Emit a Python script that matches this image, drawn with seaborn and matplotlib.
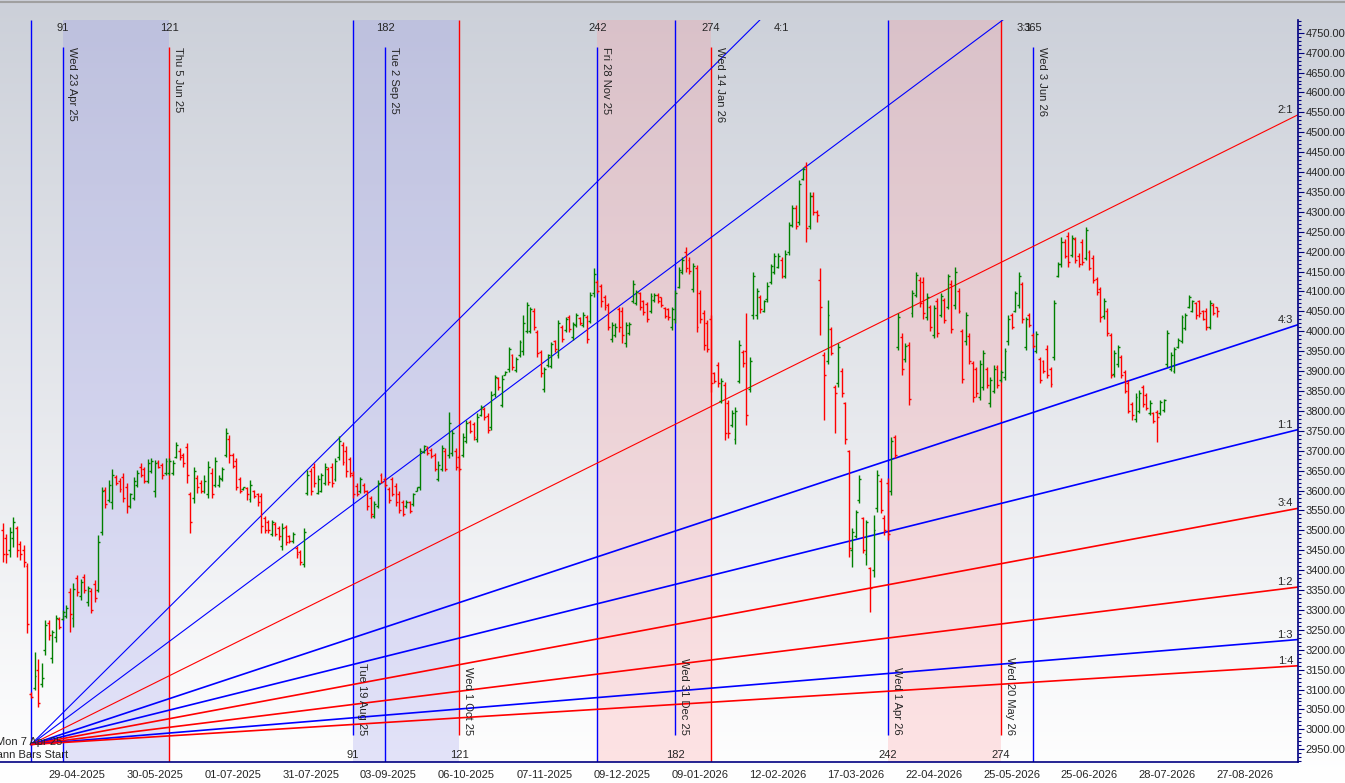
import numpy as np
import pandas as pd
import matplotlib
matplotlib.use("Agg")
import matplotlib.pyplot as plt
from matplotlib.ticker import MultipleLocator, FixedLocator, StrMethodFormatter
import seaborn as sns

sns.set_style("white")
plt.rcParams['font.family'] = ['Liberation Sans', 'DejaVu Sans']

# ---- price bars (one per trading day, bar 0 = Mon 7 Apr 25) ----
first_bar = -8
opens = [
    3500, 3480, 3450, 3480, 3505, 3465, 3450, 3410,
    3090, 3105, 3150, 3115, 3200, 3268, 3180, 3232, 3278,
    3278, 3285, 3345, 3280, 3380, 3335, 3382, 3320, 3348, 3366, 3350, 3495, 3602, 3576, 3570,
    3635, 3625, 3635, 3610, 3562, 3580, 3615, 3660, 3655, 3625, 3650, 3600, 3672, 3665, 3645,
    3645, 3645, 3685, 3700, 3688, 3710, 3590, 3580, 3632, 3620, 3600, 3590, 3645, 3615, 3615,
    3628, 3690, 3730, 3688, 3675, 3628, 3603, 3606, 3578, 3598, 3590, 3585, 3530, 3520, 3490,
    3515, 3505, 3460, 3508, 3485, 3472, 3455, 3445, 3415, 3595, 3650, 3660, 3595, 3600, 3620,
    3655, 3660, 3628, 3685, 3715, 3700, 3680,
    3640, 3612, 3598, 3615, 3598, 3580, 3535, 3562, 3640, 3630, 3605, 3628, 3612, 3592, 3570,
    3560, 3570, 3565, 3600, 3608, 3698, 3708, 3702, 3690, 3630, 3655, 3700, 3690, 3695, 3700,
    3685, 3690, 3725, 3772, 3768, 3730, 3790, 3805, 3788, 3760, 3842, 3882, 3815, 3891, 3905,
    3940, 3902, 3940, 3950, 4000, 4000, 4050, 3998, 3948, 3855, 3915, 3912, 3975, 3940, 4010,
    4003, 4036, 3985, 4015, 4033, 4016, 4035, 4025, 4095,
    4125, 4115, 4085, 4065, 3980, 3990, 4055, 4050, 3970, 3995, 4075, 4070, 4095, 4075, 4068,
    4050, 4078, 4092, 4085, 4058, 4055, 4010, 4030, 4112, 4150, 4200, 4180, 4105, 4160, 4095,
    4045, 4020,
    4030, 3895, 3915, 3825, 3865, 3820, 3765, 3730, 3875, 3948, 3950, 3855, 4040, 4040, 4085,
    4052, 4080, 4125, 4150, 4162, 4180, 4140, 4200, 4268, 4310, 4275, 4382, 4415, 4265, 4340,
    4300, 4130, 3940, 3925, 4005, 3860, 3870, 3900, 3820, 3700, 3450, 3485, 3575, 3530, 3440,
    3405, 3400, 3555, 3625, 3530,
    3620, 3600, 3735, 3960, 3985, 3930, 3965, 4045, 4092, 4130, 4125, 4035, 4060, 3990, 4075,
    4042, 4078, 4062, 4120, 4065, 4100, 4000, 3975, 3988, 3920, 3905, 3835, 3860, 3905, 3820,
    3850, 3910,
    3878, 3885, 3975, 4040, 4052, 4065, 4118, 3960, 4040,
    3990, 3950, 3930, 3925, 3955, 3905, 3935, 4140, 4170, 4225, 4240, 4192, 4232, 4190, 4225,
    4185, 4198, 4185, 4132, 4105, 4038, 4050, 3990, 3892, 3918, 3935, 3898, 3870, 3818, 3780,
    3800, 3860, 3840, 3795, 3795, 3798, 3795, 3802, 3918, 3905, 3900, 3960, 3975, 4008, 4062,
    4052, 4070, 4075, 4050, 4052, 4012, 4066, 4060,
]
highs = [
    3518, 3492, 3509, 3533, 3511, 3472, 3463, 3417,
    3095, 3195, 3178, 3166, 3275, 3275, 3250, 3287, 3283,
    3300, 3312, 3354, 3367, 3388, 3377, 3390, 3360, 3355, 3375, 3488, 3610, 3610, 3626, 3653,
    3639, 3631, 3643, 3618, 3593, 3635, 3651, 3668, 3660, 3678, 3681, 3677, 3677, 3670, 3681,
    3681, 3677, 3723, 3706, 3694, 3719, 3597, 3660, 3639, 3627, 3639, 3673, 3656, 3685, 3639,
    3660, 3757, 3740, 3694, 3681, 3635, 3610, 3610, 3627, 3602, 3593, 3593, 3535, 3526, 3526,
    3522, 3510, 3518, 3514, 3489, 3497, 3460, 3451, 3505, 3652, 3656, 3669, 3640, 3644, 3669,
    3660, 3669, 3681, 3736, 3723, 3711, 3685,
    3648, 3619, 3635, 3619, 3602, 3585, 3573, 3627, 3644, 3635, 3610, 3635, 3619, 3598, 3577,
    3577, 3573, 3594, 3610, 3706, 3715, 3711, 3706, 3694, 3673, 3715, 3706, 3798, 3752, 3706,
    3690, 3744, 3778, 3778, 3773, 3794, 3815, 3811, 3794, 3849, 3891, 3886, 3890, 3899, 3961,
    3944, 3936, 3978, 4041, 4074, 4062, 4058, 4003, 3953, 3911, 3944, 3974, 3978, 4028, 4016,
    4037, 4041, 4024, 4045, 4037, 4049, 4041, 4099, 4158,
    4129, 4120, 4091, 4070, 4024, 4020, 4062, 4062, 4024, 4024, 4129, 4104, 4099, 4079, 4074,
    4095, 4095, 4095, 4087, 4062, 4058, 4062, 4104, 4162, 4187, 4213, 4187, 4171, 4166, 4104,
    4053, 4028,
    4041, 3898, 3923, 3882, 3873, 3827, 3802, 3811, 3978, 3953, 4045, 3936, 4150, 4108, 4091,
    4079, 4124, 4170, 4196, 4196, 4187, 4204, 4275, 4317, 4317, 4380, 4413, 4426, 4350, 4350,
    4304, 4158, 3949, 4079, 4011, 3865, 3970, 3907, 3823, 3702, 3505, 3551, 3639, 3534, 3526,
    3409, 3538, 3651, 3631, 3538,
    3631, 3735, 3739, 4045, 3995, 3970, 3974, 4104, 4150, 4137, 4137, 4095, 4066, 4066, 4083,
    4095, 4083, 4145, 4129, 4162, 4108, 4007, 4049, 3995, 3925, 3911, 3928, 3953, 3911, 3886,
    3915, 3915,
    3903, 3957, 4041, 4045, 4100, 4150, 4125, 4037, 4045,
    3995, 4000, 3936, 3928, 3965, 3911, 4079, 4175, 4238, 4233, 4250, 4242, 4238, 4196, 4233,
    4263, 4204, 4192, 4137, 4112, 4083, 4058, 3995, 3953, 3966, 3940, 3903, 3878, 3823, 3844,
    3853, 3865, 3844, 3827, 3798, 3802, 3827, 3831, 4003, 3949, 3961, 3982, 4041, 4045, 4091,
    4079, 4074, 4079, 4053, 4058, 4079, 4070, 4062,
]
lows = [
    3421, 3419, 3434, 3459, 3434, 3425, 3409, 3241,
    3078, 3098, 3056, 3107, 3187, 3225, 3166, 3220, 3251,
    3275, 3281, 3245, 3258, 3335, 3325, 3342, 3310, 3293, 3321, 3346, 3488, 3555, 3572, 3553,
    3614, 3597, 3572, 3544, 3555, 3576, 3610, 3635, 3618, 3618, 3643, 3583, 3656, 3628, 3639,
    3639, 3639, 3681, 3677, 3660, 3618, 3493, 3568, 3593, 3593, 3593, 3581, 3580, 3610, 3610,
    3623, 3685, 3669, 3656, 3602, 3593, 3602, 3577, 3572, 3581, 3560, 3493, 3493, 3493, 3485,
    3485, 3476, 3451, 3464, 3468, 3468, 3430, 3413, 3409, 3589, 3589, 3610, 3590, 3597, 3614,
    3614, 3610, 3623, 3677, 3665, 3635, 3635,
    3581, 3585, 3593, 3593, 3552, 3531, 3531, 3556, 3619, 3610, 3568, 3585, 3560, 3543, 3535,
    3556, 3543, 3560, 3598, 3602, 3694, 3690, 3681, 3648, 3623, 3648, 3648, 3681, 3686, 3652,
    3648, 3685, 3719, 3744, 3727, 3723, 3786, 3778, 3744, 3752, 3836, 3853, 3811, 3890, 3898,
    3903, 3898, 3936, 3940, 3995, 3995, 4003, 3936, 3886, 3848, 3911, 3907, 3949, 3932, 3974,
    3999, 3999, 3978, 4011, 4016, 4011, 3971, 4020, 4087,
    4095, 4062, 4053, 4003, 3974, 3986, 3999, 3970, 3961, 3991, 4070, 4066, 4053, 4041, 4024,
    4045, 4074, 4070, 4062, 4033, 4028, 4003, 4020, 4108, 4145, 4150, 4145, 4099, 3999, 4020,
    3953, 3949,
    3848, 3869, 3861, 3819, 3727, 3731, 3760, 3718, 3869, 3911, 3765, 3848, 4032, 4032, 4045,
    4049, 4074, 4120, 4145, 4158, 4133, 4133, 4191, 4262, 4258, 4267, 4380, 4225, 4258, 4292,
    4275, 3991, 3777, 3919, 3940, 3744, 3861, 3836, 3718, 3434, 3409, 3480, 3568, 3442, 3413,
    3296, 3384, 3547, 3543, 3488,
    3476, 3589, 3681, 3953, 3890, 3923, 3815, 4037, 4087, 4062, 4032, 4028, 4000, 3982, 3986,
    4037, 4020, 4057, 3995, 4057, 4045, 3869, 3966, 3919, 3823, 3836, 3827, 3853, 3857, 3811,
    3844, 3857,
    3873, 3878, 3966, 4007, 4049, 4058, 4020, 3953, 4011,
    3957, 3945, 3869, 3894, 3882, 3861, 3928, 4137, 4162, 4183, 4162, 4187, 4171, 4162, 4166,
    4179, 4154, 4121, 4091, 4024, 4032, 3987, 3882, 3886, 3911, 3882, 3844, 3794, 3777, 3773,
    3794, 3811, 3802, 3790, 3769, 3723, 3790, 3798, 3911, 3899, 3894, 3957, 3970, 4003, 4058,
    4049, 4032, 4037, 4028, 4003, 4007, 4041, 4037,
]
closes = [
    3440, 3440, 3495, 3520, 3450, 3440, 3420, 3265,
    3082, 3134, 3066, 3128, 3262, 3236, 3245, 3280, 3256,
    3295, 3306, 3290, 3352, 3346, 3370, 3350, 3355, 3300, 3330, 3470, 3600, 3565, 3615, 3640,
    3620, 3605, 3580, 3560, 3590, 3625, 3645, 3640, 3625, 3670, 3675, 3670, 3660, 3640, 3675,
    3675, 3670, 3715, 3685, 3668, 3640, 3520, 3650, 3610, 3600, 3625, 3660, 3590, 3675, 3632,
    3655, 3745, 3690, 3662, 3608, 3600, 3608, 3590, 3615, 3585, 3570, 3510, 3500, 3500, 3520,
    3490, 3485, 3505, 3470, 3472, 3490, 3440, 3420, 3495, 3640, 3600, 3620, 3630, 3638, 3660,
    3622, 3618, 3675, 3725, 3672, 3650, 3645,
    3590, 3592, 3628, 3598, 3560, 3540, 3565, 3620, 3622, 3615, 3575, 3592, 3570, 3550, 3540,
    3572, 3548, 3590, 3608, 3700, 3712, 3695, 3686, 3655, 3665, 3708, 3655, 3770, 3745, 3660,
    3655, 3735, 3770, 3750, 3735, 3785, 3810, 3785, 3752, 3840, 3885, 3860, 3880, 3897, 3955,
    3910, 3930, 3972, 4020, 4065, 4055, 4010, 3945, 3895, 3905, 3940, 3968, 3955, 4020, 3980,
    4030, 4005, 4018, 4040, 4020, 4042, 3980, 4090, 4145,
    4100, 4075, 4060, 4010, 4015, 4012, 4010, 3990, 4015, 4018, 4120, 4098, 4060, 4048, 4030,
    4088, 4090, 4075, 4066, 4038, 4035, 4055, 4095, 4155, 4180, 4160, 4152, 4165, 4010, 4030,
    3965, 3955,
    3870, 3875, 3870, 3875, 3745, 3745, 3795, 3800, 3965, 3920, 3790, 3925, 4140, 4100, 4055,
    4075, 4115, 4165, 4190, 4190, 4140, 4195, 4268, 4310, 4265, 4370, 4408, 4260, 4340, 4300,
    4292, 4060, 3890, 4040, 3945, 3845, 3960, 3845, 3730, 3455, 3495, 3545, 3630, 3450, 3520,
    3355, 3500, 3640, 3550, 3500,
    3490, 3725, 3690, 4035, 3905, 3962, 3830, 4095, 4142, 4070, 4045, 4085, 4010, 4058, 3995,
    4088, 4028, 4138, 4005, 4150, 4050, 3880, 4040, 3925, 3835, 3845, 3918, 3945, 3865, 3878,
    3905, 3865,
    3898, 3950, 4030, 4012, 4095, 4140, 4030, 4030, 4015,
    3962, 3992, 3878, 3900, 3890, 3868, 4070, 4170, 4225, 4190, 4175, 4235, 4178, 4168, 4175,
    4255, 4160, 4128, 4098, 4035, 4075, 3995, 3890, 3945, 3960, 3890, 3850, 3800, 3790, 3835,
    3845, 3818, 3808, 3820, 3775, 3785, 3822, 3828, 3995, 3940, 3955, 3978, 4035, 4040, 4085,
    4075, 4040, 4045, 4032, 4010, 4072, 4045, 4050,
]
assert len(opens) == len(highs) == len(lows) == len(closes)

# ---- x axis date labels (every 22 trading bars) ----
tick_dates = ["24-03-2025", "29-04-2025", "30-05-2025", "01-07-2025", "31-07-2025",
              "03-09-2025", "06-10-2025", "07-11-2025", "09-12-2025", "09-01-2026",
              "12-02-2026", "17-03-2026", "22-04-2026", "25-05-2026", "25-06-2026",
              "28-07-2026", "27-08-2026"]
tick_first_bar = -9
tick_step = 22

# ---- Gann fan ----
gann_bar = 0
gann_price = 2962
gann_unit = 2.21          # price per bar for 1:1
gann_names = ["4:1", "3:1", "2:1", "4:3", "1:1", "3:4", "1:2", "1:3", "1:4"]
gann_ratios = [4, 3, 2, 4 / 3, 1, 3 / 4, 1 / 2, 1 / 3, 1 / 4]
gann_colors = ["#0000ff", "#0000ff", "#ff0000", "#0000ff", "#0000ff",
               "#ff0000", "#ff0000", "#0000ff", "#ff0000"]
gann_widths = [0.8, 0.8, 0.8, 1.2, 1.2, 1.2, 1.2, 1.2, 1.2]

# ---- Gann bar counts ----
top_origin = -82
top_counts = [91, 121, 182, 242, 274, 365]
top_dates = ["Wed 23 Apr 25", "Thu 5 Jun 25", "Tue 2 Sep 25", "Fri 28 Nov 25",
             "Wed 14 Jan 26", "Wed 3 Jun 26"]
top_colors = ["#0000ff", "#ff0000", "#0000ff", "#0000ff", "#ff0000", "#0000ff"]
bottom_origin = 0
bottom_counts = [91, 121, 182, 242, 274]
bottom_dates = ["Tue 19 Aug 25", "Wed 1 Oct 25", "Wed 31 Dec 25", "Wed 1 Apr 26",
                "Wed 20 May 26"]
bottom_colors = ["#0000ff", "#ff0000", "#0000ff", "#0000ff", "#ff0000"]
shade_pairs = [(91, 121, "#9292ec"), (242, 274, "#ff9499")]

# view window
x_left, x_right = -8.76, 357.9
y_low, y_high = 2918, 4782
line_top, line_bottom = 4714, 2986
count_top_y, count_bottom_y = 4762, 2935

fig = plt.figure(figsize=(13.45, 7.83), dpi=100)

# background gradient
bg = fig.add_axes([0, 0, 1, 1], zorder=-10)
top_rgb = np.array([204, 208, 217]) / 255.0
g = np.linspace(0, 1, 300)[:, None, None]
bg.imshow(top_rgb + (1 - top_rgb) * g, aspect="auto", extent=[0, 1, 0, 1], origin="upper")
bg.plot([0, 1], [0.998, 0.998], color="#a0a0a0", lw=1.5)
bg.set_xlim(0, 1)
bg.set_ylim(0, 1)
bg.axis("off")

ax = fig.add_axes([0, 21 / 783, 1298 / 1345, 742 / 783])
ax.set_facecolor("none")
ax.set_xlim(x_left, x_right)
ax.set_ylim(y_low, y_high)

# shaded cycles
for origin in (top_origin, bottom_origin):
    for a, b, col in shade_pairs:
        ax.axvspan(origin + a, origin + b, color=col, alpha=0.25, lw=0, zorder=0)

# vertical count lines
ax.vlines(gann_bar, y_low, y_high, color="#0000ff", lw=1.0, zorder=1)
for c, d, col in zip(top_counts, top_dates, top_colors):
    xb = top_origin + c
    ax.vlines(xb, y_low, line_top, color=col, lw=1.0, zorder=1)
    ax.text(xb + 1.15, line_top, d, rotation=270, ha="left", va="top", fontsize=8)
    ax.text(xb, count_top_y, str(c), ha="center", va="center", fontsize=8)
for c, d, col in zip(bottom_counts, bottom_dates, bottom_colors):
    xb = bottom_origin + c
    ax.vlines(xb, line_bottom, y_high, color=col, lw=1.0, zorder=1)
    ax.text(xb + 1.15, line_bottom, d, rotation=270, ha="left", va="bottom", fontsize=8)
    ax.text(xb, count_bottom_y, str(c), ha="center", va="center", fontsize=8)

# Gann fan lines via seaborn
rows = []
for name, r in zip(gann_names, gann_ratios):
    rows.append({"ratio": name, "bar": gann_bar, "price": gann_price})
    rows.append({"ratio": name, "bar": x_right,
                 "price": gann_price + r * gann_unit * (x_right - gann_bar)})
gann_df = pd.DataFrame(rows)
sns.lineplot(data=gann_df, x="bar", y="price", hue="ratio", size="ratio",
             palette=dict(zip(gann_names, gann_colors)),
             sizes=dict(zip(gann_names, gann_widths)),
             estimator=None, sort=False, legend=False, ax=ax, zorder=2)
for name, r in zip(gann_names, gann_ratios):
    end_price = gann_price + r * gann_unit * (x_right - gann_bar)
    if end_price < y_high:
        ax.text(x_right - 1.4, end_price, name, ha="right", va="bottom", fontsize=8)
    else:
        cross = gann_bar + (y_high - gann_price) / (r * gann_unit)
        ax.text(cross + 3.8, count_top_y, name, ha="left", va="center", fontsize=8)

# OHLC bars
bars = pd.DataFrame({"open": opens, "high": highs, "low": lows, "close": closes})
bars["bar"] = first_bar + np.arange(len(bars))
bars["color"] = np.where(bars["close"] >= bars["open"], "#008000", "#ff0000")
ax.vlines(bars["bar"], bars["low"], bars["high"], colors=bars["color"], lw=1.0, zorder=3)
ax.hlines(bars["open"], bars["bar"] - 0.55, bars["bar"], colors=bars["color"], lw=1.0, zorder=3)
ax.hlines(bars["close"], bars["bar"], bars["bar"] + 0.55, colors=bars["color"], lw=1.0, zorder=3)

# labels for the start
ax.text(8.8, 2968, "Mon 7 Apr 25", ha="right", va="center", fontsize=8, clip_on=False)
ax.text(10.5, 2935, "Gann Bars Start", ha="right", va="center", fontsize=8, clip_on=False)

# axes styling
axis_col = "#000080"
for side in ("left", "top"):
    ax.spines[side].set_visible(False)
for side in ("right", "bottom"):
    ax.spines[side].set_color(axis_col)
    ax.spines[side].set_linewidth(1.2)
ax.yaxis.tick_right()
ax.yaxis.set_major_locator(MultipleLocator(50))
ax.yaxis.set_minor_locator(MultipleLocator(10))
ax.yaxis.set_major_formatter(StrMethodFormatter("{x:.2f}"))
tick_pos = [tick_first_bar + tick_step * k for k in range(len(tick_dates))]
ax.xaxis.set_major_locator(FixedLocator(tick_pos))
ax.set_xticklabels(tick_dates)
ax.xaxis.set_minor_locator(FixedLocator(np.arange(tick_first_bar, x_right, tick_step / 5)))
ax.tick_params(axis="both", which="major", length=4, width=0.8, color=axis_col,
               labelsize=8, pad=1.5)
ax.tick_params(axis="both", which="minor", length=2.5, width=0.8, color=axis_col)
ax.tick_params(axis="y", which="both", left=False, right=True)
ax.grid(False)
ax.set_xlabel("")
ax.set_ylabel("")

fig.savefig("out.png", dpi=100)
